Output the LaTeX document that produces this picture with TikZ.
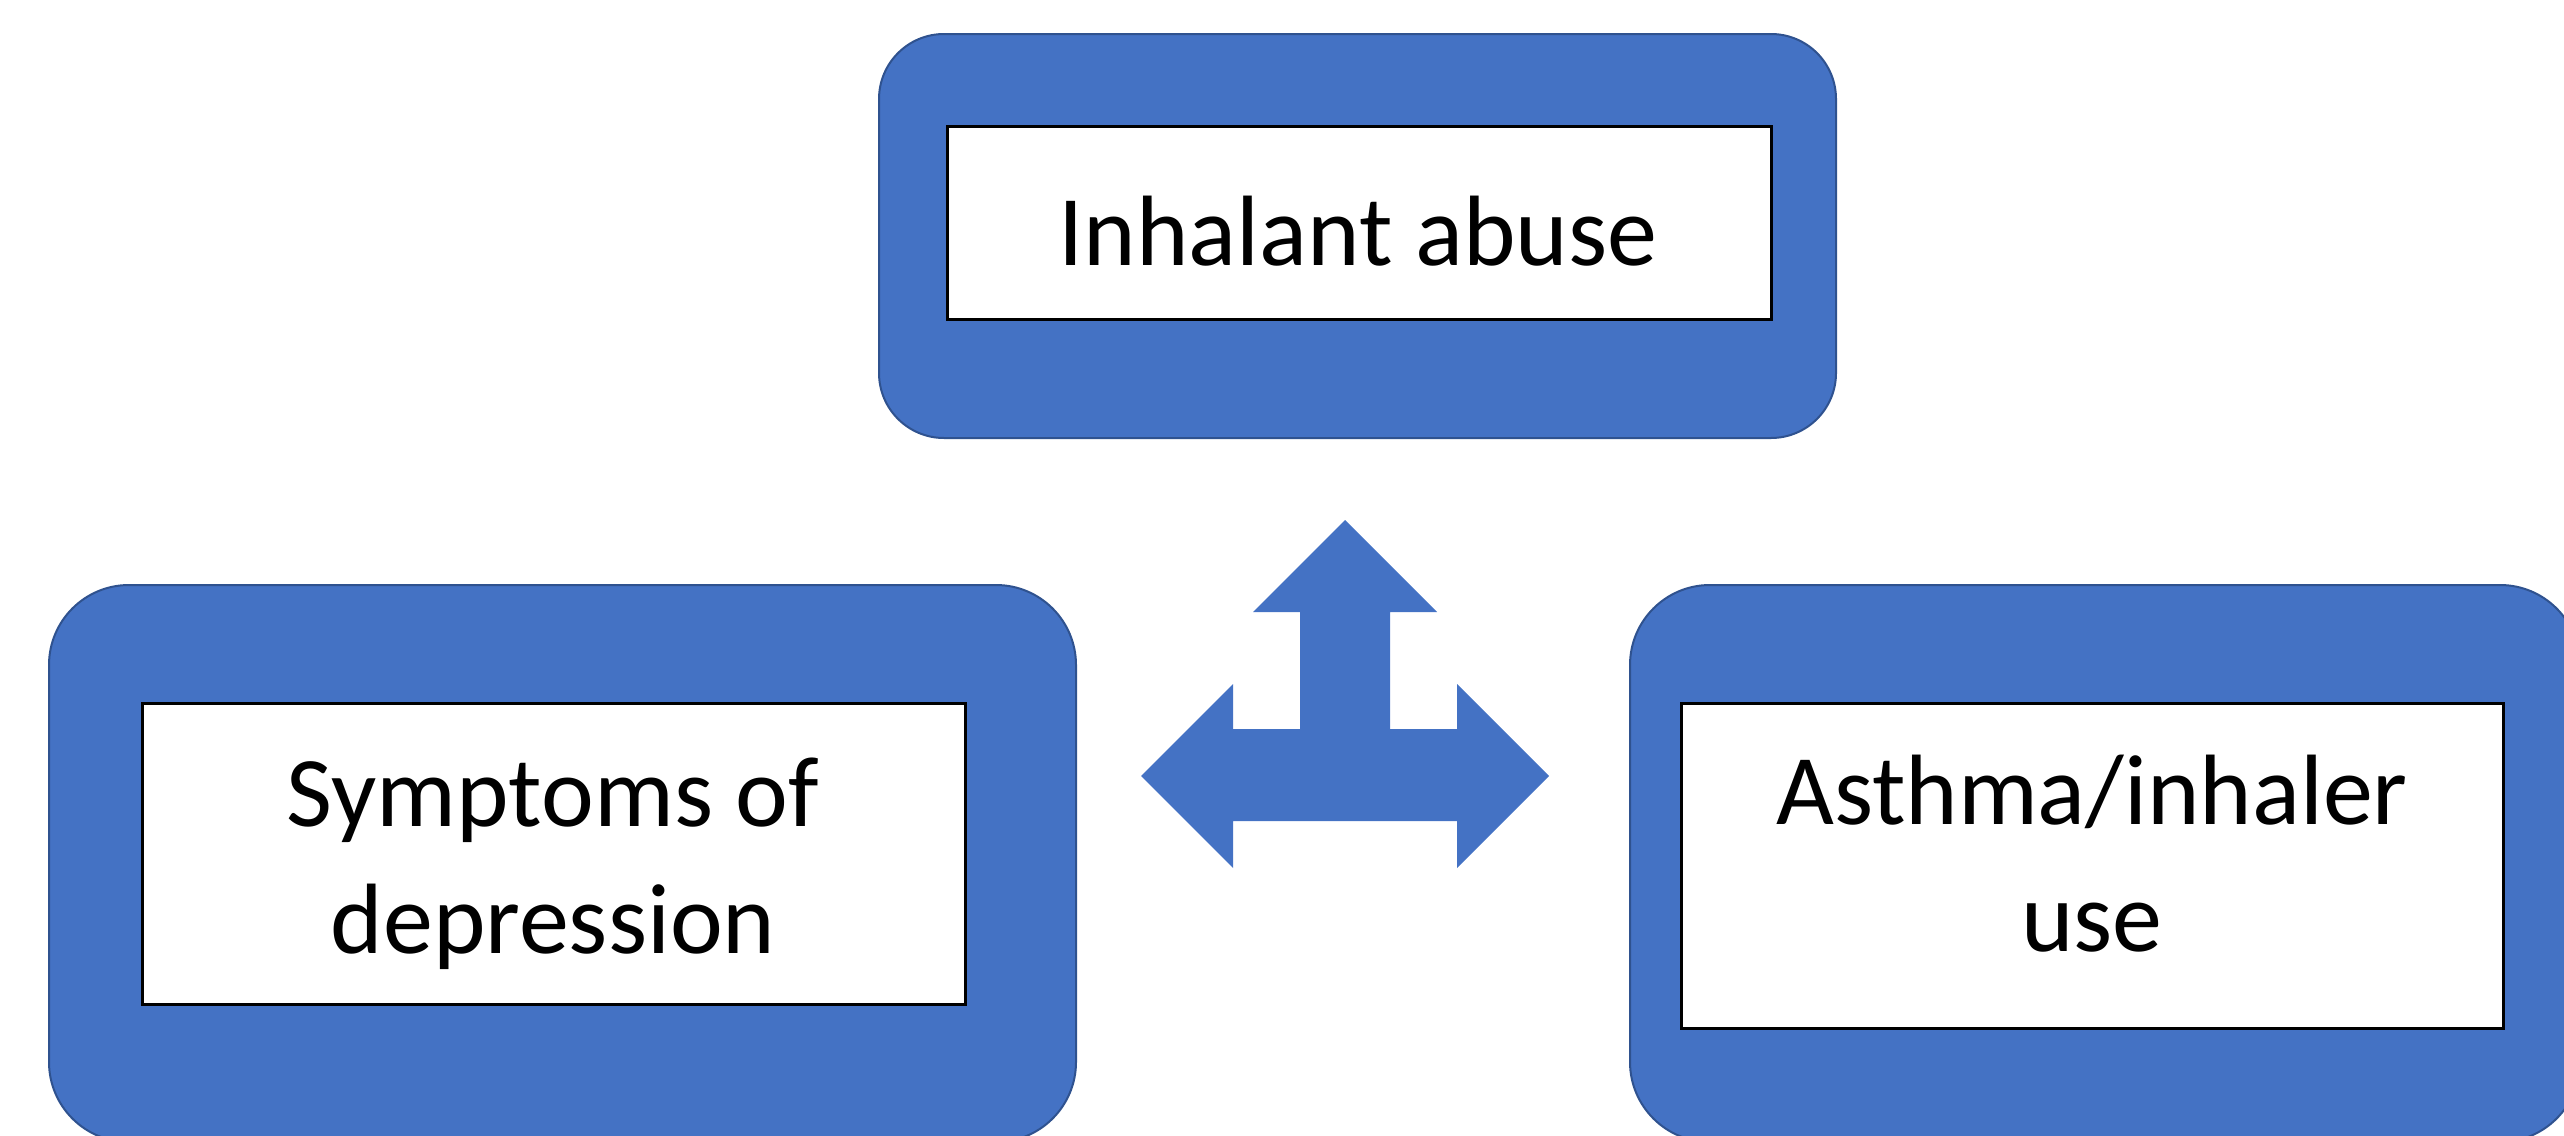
\documentclass[tikz,border=0pt]{standalone}
\usepackage{fontspec}
\setmainfont{Carlito}
\definecolor{boxblue}{HTML}{4472C4}
\definecolor{boxedge}{HTML}{2F528F}
\begin{document}
\begin{tikzpicture}[x=1pt,y=-1pt,
  outerbox/.style={rectangle,draw=boxedge,line width=2pt,fill=boxblue,rounded corners=80pt,inner sep=0pt},
  innerbox/.style={rectangle,draw=black,line width=3pt,fill=white,inner sep=0pt},
  boxtext/.style={inner sep=0pt,align=center,font=\fontsize{100}{127}\selectfont},
  arrowshape/.style={fill=boxblue}]
\useasboundingbox (0,0) rectangle (2564,1135);
% outer rounded boxes
\node[outerbox,rounded corners=65pt,minimum width=957pt,minimum height=404pt] (topouter) at (1357.5,236) {};
\node[outerbox,minimum width=1027pt,minimum height=557pt] (leftouter) at (562.5,863.5) {};
\node[outerbox,minimum width=950pt,minimum height=557pt] (rightouter) at (2105,863.5) {};
% inner white boxes
\node[innerbox,minimum width=824pt,minimum height=193pt] (topinner) at (1359,222.5) {};
\node[innerbox,minimum width=823pt,minimum height=301pt] (leftinner) at (553.5,853.5) {};
\node[innerbox,minimum width=822pt,minimum height=325pt] (rightinner) at (2092,865.5) {};
% texts
\node[boxtext,anchor=base] (toptext) at (1358,265) {Inhalant abuse};
\node[boxtext] (lefttext) at (553,864) {Symptoms of\\depression};
\node[boxtext] (righttext) at (2092,854) {Asthma/inhaler\\use};
% three-way arrow
\fill[arrowshape] (1345,520) -- (1437,612) -- (1390,612) -- (1390,729) -- (1457,729)
  -- (1457,684) -- (1549,776) -- (1457,868) -- (1457,821) -- (1233,821) -- (1233,868)
  -- (1141,776) -- (1233,684) -- (1233,729) -- (1300,729) -- (1300,612) -- (1253,612) -- cycle;
\end{tikzpicture}
\end{document}
